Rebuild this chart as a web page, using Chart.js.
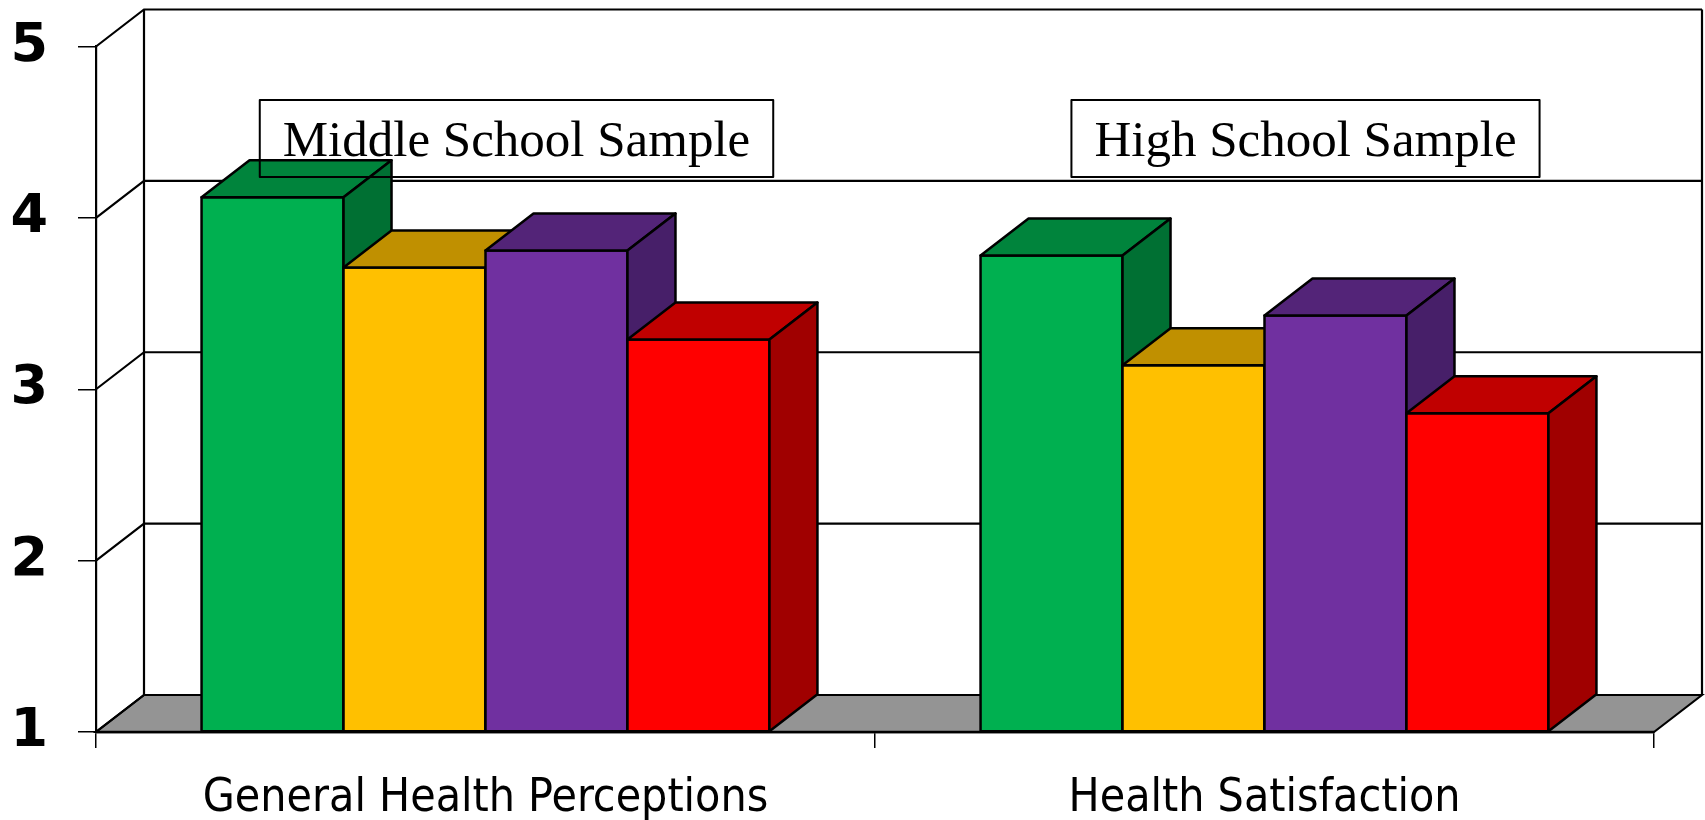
<!DOCTYPE html>
<html><head><meta charset="utf-8">
<script src="https://cdn.jsdelivr.net/npm/chart.js@4.4.1/dist/chart.umd.min.js"></script>
<style>html,body{margin:0;padding:0;background:#fff;overflow:hidden}</style>
</head><body>
<canvas id="c" width="1705" height="820"></canvas>
<script>
const categories = ["General Health Perceptions", "Health Satisfaction"];
const seriesGreen = [4.12, 3.78];
const seriesYellow = [3.71, 3.14];
const seriesPurple = [3.81, 3.43];
const seriesRed = [3.29, 2.86];
const yTickValues = [1, 2, 3, 4, 5];
const panelLabels = ["Middle School Sample", "High School Sample"];

const frontColors = ['#00B050', '#FFC000', '#7030A0', '#FF0000'];
const topColors = ['#00843C', '#C09000', '#532478', '#C00000'];
const sideColors = ['#007033', '#A07800', '#471F69', '#A00000'];
const DX = 48, DY = 37;

const threeD = {
  id: 'threeD',
  beforeDatasetsDraw(chart) {
    const ctx = chart.ctx, ca = chart.chartArea, ys = chart.scales.y;
    const L = ca.left, R = ca.right;
    const yTop = ys.getPixelForValue(ys.max), yBot = ys.getPixelForValue(ys.min);
    ctx.save();
    ctx.beginPath();
    ctx.moveTo(L, yBot); ctx.lineTo(R, yBot); ctx.lineTo(R + DX, yBot - DY); ctx.lineTo(L + DX, yBot - DY); ctx.closePath();
    ctx.fillStyle = '#949494'; ctx.fill();
    ctx.strokeStyle = '#000'; ctx.lineWidth = 2.2; ctx.stroke();
    yTickValues.forEach(v => {
      const py = ys.getPixelForValue(v);
      ctx.beginPath();
      ctx.moveTo(L, py); ctx.lineTo(L + DX, py - DY);
      ctx.lineTo(R + DX, py - DY);
      ctx.stroke();
    });
    ctx.beginPath();
    ctx.moveTo(L + DX, yTop - DY); ctx.lineTo(L + DX, yBot - DY);
    ctx.moveTo(R + DX, yTop - DY); ctx.lineTo(R + DX, yBot - DY);
    ctx.stroke();
    ctx.restore();
  },
  afterDatasetsDraw(chart) {
    const ctx = chart.ctx;
    const n = chart.data.labels.length;
    ctx.save();
    ctx.strokeStyle = '#000'; ctx.lineWidth = 2.5; ctx.lineJoin = 'round';
    for (let i = 0; i < n; i++) {
      chart.data.datasets.forEach((ds, d) => {
        const el = chart.getDatasetMeta(d).data[i];
        const l = el.x - el.width / 2, r = el.x + el.width / 2, t = el.y, b = el.base;
        ctx.fillStyle = frontColors[d];
        ctx.beginPath(); ctx.rect(l, t, r - l, b - t); ctx.fill(); ctx.stroke();
        ctx.fillStyle = topColors[d];
        ctx.beginPath(); ctx.moveTo(l, t); ctx.lineTo(r, t); ctx.lineTo(r + DX, t - DY); ctx.lineTo(l + DX, t - DY); ctx.closePath(); ctx.fill(); ctx.stroke();
        ctx.fillStyle = sideColors[d];
        ctx.beginPath(); ctx.moveTo(r, t); ctx.lineTo(r + DX, t - DY); ctx.lineTo(r + DX, b - DY); ctx.lineTo(r, b); ctx.closePath(); ctx.fill(); ctx.stroke();
      });
    }
    const ys = chart.scales.y, ca = chart.chartArea;
    ctx.beginPath(); ctx.moveTo(ca.left, ys.getPixelForValue(ys.min)); ctx.lineTo(ca.right, ys.getPixelForValue(ys.min)); ctx.stroke();
    const xs = chart.scales.x;
    const offs = [31, 41];
    ctx.font = '51px "Liberation Serif", "Times New Roman", serif';
    ctx.textAlign = 'center'; ctx.textBaseline = 'alphabetic';
    panelLabels.forEach((txt, i) => {
      const cx = xs.getPixelForValue(i) + offs[i];
      const w = ctx.measureText(txt).width + 46;
      ctx.lineWidth = 2; ctx.strokeStyle = '#000';
      ctx.strokeRect(cx - w / 2, 100, w, 77);
      ctx.fillStyle = '#000';
      ctx.fillText(txt, cx, 156);
    });
    ctx.restore();
  }
};

new Chart(document.getElementById('c'), {
  type: 'bar',
  data: {
    labels: categories,
    datasets: [
      { data: seriesGreen, backgroundColor: frontColors[0] },
      { data: seriesYellow, backgroundColor: frontColors[1] },
      { data: seriesPurple, backgroundColor: frontColors[2] },
      { data: seriesRed, backgroundColor: frontColors[3] }
    ]
  },
  options: {
    responsive: false,
    devicePixelRatio: 1,
    animation: false,
    layout: { padding: { top: 46.5, right: 51, left: 0, bottom: 0 } },
    plugins: { legend: { display: false }, tooltip: { enabled: false } },
    datasets: { bar: { categoryPercentage: 0.729, barPercentage: 1.0, borderWidth: 0, base: 1 } },
    scales: {
      x: {
        afterFit(s) { s.height = 88; },
        grid: { offset: true, drawOnChartArea: false, drawTicks: true, tickLength: 16, color: '#000', lineWidth: 1.5 },
        border: { display: true, color: '#000', width: 2.2 },
        ticks: { color: '#000', padding: 23, font: { family: '"DejaVu Sans Condensed", "DejaVu Sans"', size: 46 } }
      },
      y: {
        min: 1, max: 5,
        afterFit(s) { s.width = 96; },
        afterBuildTicks(s) { s.ticks = yTickValues.map(v => ({ value: v })); },
        grid: { drawOnChartArea: false, drawTicks: true, tickLength: 18, color: '#000', lineWidth: 1.5 },
        border: { display: true, color: '#000', width: 2.2 },
        ticks: { color: '#000', padding: 30, font: { family: '"DejaVu Sans"', weight: 'bold', size: 54, lineHeight: 0.6 } }
      }
    }
  },
  plugins: [threeD]
});
</script>
</body></html>
